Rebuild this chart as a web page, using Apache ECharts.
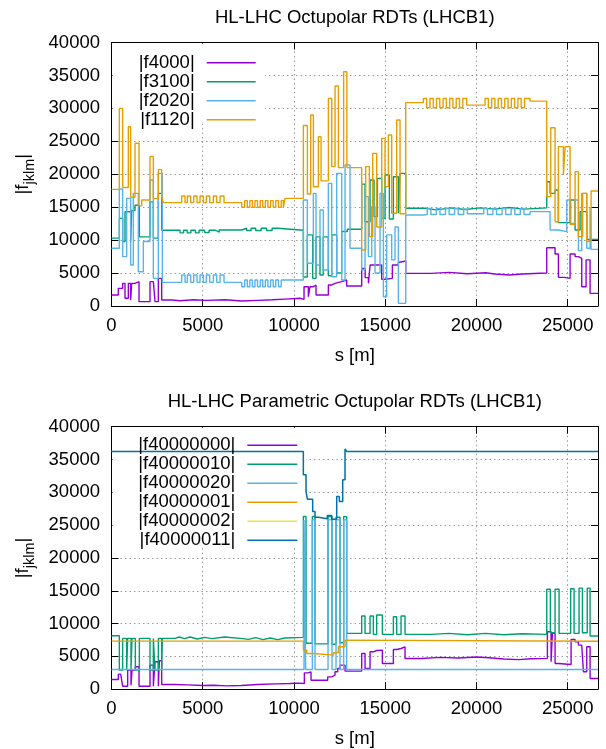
<!DOCTYPE html>
<html><head><meta charset="utf-8">
<script src="https://cdn.jsdelivr.net/npm/echarts@6/dist/echarts.min.js"></script>
<style>html,body{margin:0;padding:0;background:#fff}#c{width:606px;height:749px}</style>
</head><body><div id="c"></div><script>
// ---------- axis ticks ----------
const S_MAX = 26658.88;
const X_TICK_STEP = 5000;
const Y_MAX = 40000;
const Y_TICK_STEP = 5000;

// ---------- titles / names ----------
const titleTop = 'HL-LHC Octupolar RDTs (LHCB1)';
const titleBottom = 'HL-LHC Parametric Octupolar RDTs (LHCB1)';
const xName = 's [m]';
const yName = '|f{sub|jklm}|';

// ---------- top panel: [s (m), |f|] step data ----------
const f4000 = [[0,1670],[375,2680],[612,3440],[740,1170],[923,3440],[1051,920],[1106,3440],[1288,3700],[1508,660],[2110,3700],[2293,3950],[2385,660],[2567,4200],[2750,900],[3300,800],[3755,950],[4500,850],[5200,950],[6221,750],[7135,850],[8000,950],[8800,1050],[9510,1170],[10330,1010],[10550,2930],[10787,1420],[10878,2930],[11061,3190],[11207,1670],[11883,3190],[12066,3440],[12248,3700],[12614,3950],[12888,3030],[13710,5700],[13900,4300],[14080,3440],[14170,6230],[14806,4070],[14989,4200],[15390,6230],[15720,6600],[15811,6830],[16122,4960],[17500,5100],[18500,4900],[19500,5050],[20500,4850],[21000,4700],[21800,4850],[22500,5000],[23850,8850],[24306,7900],[24489,4350],[24800,4200],[25129,7900],[25403,7490],[25586,7240],[25768,2930],[26005,7000],[26225,1920],[26659,1920]];
const f3100 = [[0,10300],[430,13300],[612,9800],[740,14300],[1051,9800],[1106,14500],[1288,15300],[1526,10500],[2110,15800],[2293,10300],[2567,17100],[2750,11500],[3755,11100],[3950,11500],[4150,11100],[4350,11500],[4600,11100],[4800,11500],[5100,11150],[5350,11500],[5700,11200],[5900,11540],[7135,11800],[7400,11450],[7650,11800],[7900,11450],[8200,11800],[8500,11450],[8800,11800],[9100,11500],[10515,4400],[10732,10800],[11024,4200],[11207,10500],[11426,4700],[11600,10500],[11883,4600],[12066,10800],[12340,5000],[12614,11300],[12924,11640],[13710,18500],[13893,12800],[14167,19130],[14386,13560],[14569,19380],[14806,13300],[14989,19880],[15227,13200],[15446,19630],[15720,14070],[15811,20140],[16122,14830],[17200,14600],[17800,14900],[18600,14650],[19400,14900],[20200,14700],[21000,14950],[21800,14700],[22600,14900],[23850,18870],[24033,17100],[24306,17600],[24489,12650],[25129,16090],[25403,11540],[25677,14320],[26042,10120],[26659,10120]];
const f2020 = [[0,8760],[430,17760],[612,7490],[832,16340],[1051,6230],[1197,17100],[1471,5200],[1745,9800],[2110,19130],[2293,4200],[2567,20140],[2786,3590],[3846,4710],[4029,3590],[4157,4710],[4339,3590],[4504,4710],[4687,3590],[4851,4710],[5034,3590],[5198,4710],[5381,3590],[5582,4710],[5765,3590],[5947,4710],[6166,3590],[7135,2930],[7300,3950],[7440,2930],[7580,3950],[7720,2930],[7860,3950],[8000,2930],[8150,3950],[8290,2930],[8430,3950],[8570,2930],[8720,3950],[8860,2930],[9000,3950],[9150,2930],[9300,3950],[9510,3950],[10513,16100],[10732,6480],[11061,17100],[11207,6230],[11426,14570],[11609,5460],[11883,18620],[12066,4450],[12340,20140],[12614,3950],[12797,21400],[13070,8760],[13710,5500],[13893,16600],[14075,7500],[14260,15100],[14440,5000],[14715,17100],[14900,1400],[15080,10800],[15354,7000],[15537,12000],[15720,400],[16122,13820],[17090,13900],[17300,14800],[17500,13900],[17800,14800],[18000,13900],[18300,14800],[18500,13900],[18800,14800],[19000,13900],[19300,14700],[19500,14000],[20400,14800],[20600,13900],[20900,14800],[21100,13900],[21400,14800],[21600,13900],[21900,14800],[22100,13900],[22400,14800],[22600,13900],[22936,14320],[24033,11540],[24489,11290],[24946,16100],[25165,12550],[25403,16100],[25586,8400],[25768,17100],[26042,8760],[26225,15000],[26280,8600],[26659,8600]];
const f1120 = [[0,17700],[430,30000],[612,18000],[923,27200],[1051,16500],[1288,24700],[1508,15200],[1654,16100],[2110,22700],[2293,16300],[2567,20700],[2750,16600],[2841,15700],[3846,16700],[4029,15700],[4157,16700],[4339,15700],[4504,16700],[4687,15700],[4851,16700],[5034,15700],[5198,16700],[5381,15700],[5582,16700],[5765,15700],[5947,16700],[6166,15700],[7135,15000],[7300,16000],[7440,15000],[7580,16000],[7720,15000],[7860,16000],[8000,15000],[8150,16000],[8290,15000],[8430,16000],[8570,15000],[8720,16000],[8860,15000],[9000,16000],[9150,15000],[9300,16000],[9420,15000],[9510,16340],[10515,27400],[10734,17000],[10917,29000],[11063,18100],[11337,25700],[11483,19000],[11885,31500],[12068,21150],[12250,33400],[12433,21000],[12720,35570],[12900,21000],[13710,8500],[13929,21150],[14130,10530],[14313,23170],[14532,12000],[14806,25450],[14989,18120],[15172,25960],[15354,14070],[15628,28240],[15811,14000],[16122,30870],[17090,31500],[17270,30100],[17450,31500],[17630,30100],[17810,31500],[17990,30100],[18170,31500],[18350,30100],[18530,31500],[18710,30100],[18890,31500],[19070,30100],[19250,31500],[19465,30500],[20470,31500],[20650,30100],[20830,31500],[21010,30100],[21190,31500],[21370,30100],[21550,31500],[21730,30100],[21910,31500],[22090,30100],[22270,31500],[22450,30100],[22630,31500],[22936,31100],[23850,16600],[24070,27070],[24306,12800],[24489,24190],[24760,19890],[24860,24190],[25129,12400],[25403,20400],[25586,10530],[25820,17100],[26042,9800],[26280,17450],[26659,17450]];

// ---------- bottom panel ----------
const f40000000 = [[0,1476],[375,2290],[503,2494],[612,458],[886,2900],[1069,610],[1124,2900],[1307,3410],[1508,458],[2110,3665],[2293,458],[2385,4174],[2567,458],[2622,4326],[2750,712],[3500,660],[4200,560],[5000,610],[5600,510],[6300,560],[7100,710],[8000,810],[9000,860],[9800,920],[10200,860],[10568,2494],[10787,2650],[10933,1374],[11846,1880],[12066,2140],[12248,2650],[12394,3155],[12522,3665],[12797,2760],[13710,5446],[13893,3155],[14167,5700],[14350,5900],[14532,5950],[14843,3920],[15446,6057],[15628,6200],[15866,6460],[16085,4683],[17000,4850],[18000,4750],[19000,4900],[20000,4800],[20700,4600],[21500,4500],[22300,4650],[23000,4700],[23886,8750],[24088,4170],[24160,8500],[24307,3920],[24490,3770],[25184,7580],[25403,7230],[25586,6720],[25768,6570],[25860,2650],[26042,6460],[26225,1630],[26659,1630]];
const f40000010 = [[0,8144],[430,2900],[612,7740],[832,2900],[886,7740],[1069,2900],[1124,7740],[1307,2900],[1526,7740],[2110,2900],[2293,7740],[2385,2900],[2567,7740],[2750,2900],[2786,7740],[3500,7950],[3700,7700],[4000,7950],[4300,7650],[4700,7900],[5100,7700],[5500,7950],[6200,7700],[7200,7600],[7500,7850],[7900,7550],[8300,7800],[8700,7550],[9100,7800],[9500,7900],[10515,26320],[10660,7000],[11006,26320],[11152,6900],[11865,26300],[12084,6850],[12303,26200],[12522,7075],[12723,26300],[12888,8500],[13710,11150],[13893,8500],[14167,11150],[14350,8350],[14532,11300],[14843,8350],[15446,11050],[15628,8350],[15866,11150],[16085,8350],[17500,8500],[18500,8300],[19500,8500],[20500,8300],[21500,8450],[22500,8350],[23850,15220],[24050,8600],[24306,15220],[24526,8500],[25160,15300],[25348,8500],[25620,15400],[25805,8600],[26070,15400],[26225,8100],[26659,8100]];
const f40000020 = [[0,3000],[10550,25800],[10640,3000],[11006,25800],[11152,3000],[11865,25800],[12084,3000],[12303,25800],[12522,3000],[12723,25800],[12888,3000],[26659,3000]];
const f40000001 = [[0,7330],[10515,5955],[10700,5446],[11063,5190],[12159,5550],[12433,6463],[12798,7480],[12890,7300],[26659,7300]];
const f40000002 = [[0,36240],[10513,32680],[10659,30130],[10732,28960],[11024,27080],[11152,26210],[11335,25960],[11828,26470],[12066,25900],[12340,29370],[12486,28600],[12669,31910],[12797,36600],[12888,36240],[26659,36240]];
const f40000011 = [[0,36240],[10513,32680],[10659,30130],[10732,28960],[11024,27080],[11152,26210],[11335,25960],[11828,26470],[12066,25900],[12340,29370],[12486,28600],[12669,31910],[12797,36600],[12888,36240],[26659,36240]];

const topSeries = [
  {name:'|f4000|', data:f4000, color:'#9400d3', w:1.4},
  {name:'|f3100|', data:f3100, color:'#009e73', w:1.4},
  {name:'|f2020|', data:f2020, color:'#56b4e9', w:1.4},
  {name:'|f1120|', data:f1120, color:'#e69f00', w:1.4}
];
const bottomSeries = [
  {name:'|f40000000|', data:f40000000, color:'#9400d3', w:1.4},
  {name:'|f40000010|', data:f40000010, color:'#009e73', w:1.4},
  {name:'|f40000020|', data:f40000020, color:'#56b4e9', w:1.4},
  {name:'|f40000001|', data:f40000001, color:'#e69f00', w:1.4},
  {name:'|f40000002|', data:f40000002, color:'#f0e442', w:0.6},
  {name:'|f40000011|', data:f40000011, color:'#0072b2', w:1.5}
];

const FONT = '"Liberation Sans", Arial, Helvetica, sans-serif';
const FS = 18.5;
const GRIDS = [
  {left:111.5, top:42.5, width:486.5, height:263.5},
  {left:111.5, top:426.7, width:486.5, height:262.5}
];
const split = {show:true, showMinLine:false, showMaxLine:false, lineStyle:{color:'#9a9a9a', width:1, type:[1.5,3]}};
const tick = {show:true, inside:true, length:7, lineStyle:{color:'#000', width:1}};
const line = {show:true, onZero:false, lineStyle:{color:'#000', width:1}};
const lab = {fontSize:FS, color:'#000', fontFamily:FONT};
const plain = v => String(Math.round(v));

const xAxis = [], yAxis = [];
GRIDS.forEach((g, i) => {
  xAxis.push({gridIndex:i, type:'value', position:'bottom', min:0, max:S_MAX, interval:X_TICK_STEP,
    name:xName, nameLocation:'middle', nameGap:40, nameTextStyle:lab,
    axisLine:line, axisTick:tick, splitLine:split,
    axisLabel:Object.assign({margin:10, showMaxLabel:false, formatter:plain}, lab)});
  xAxis.push({gridIndex:i, type:'value', position:'top', min:0, max:S_MAX, interval:X_TICK_STEP,
    axisLine:line, axisTick:tick, splitLine:{show:false}, axisLabel:{show:false}});
  yAxis.push({gridIndex:i, type:'value', position:'left', min:0, max:Y_MAX, interval:Y_TICK_STEP,
    name:yName, nameLocation:'middle', nameRotate:90, nameGap:74.5,
    nameTextStyle:Object.assign({lineHeight:28, rich:{sub:{fontSize:14.5, fontFamily:FONT, color:'#000', verticalAlign:'bottom'}}}, lab),
    axisLine:line, axisTick:tick, splitLine:split,
    axisLabel:Object.assign({margin:11.5, formatter:plain}, lab)});
  yAxis.push({gridIndex:i, type:'value', position:'right', min:0, max:Y_MAX, interval:Y_TICK_STEP,
    axisLine:line, axisTick:tick, splitLine:{show:false}, axisLabel:{show:false}});
});

function mk(list, gi) {
  return list.map(s => ({
    name:s.name, type:'line', step:'end', data:s.data, xAxisIndex:gi*2, yAxisIndex:gi*2,
    symbol:'none', showSymbol:false, silent:true, animation:false, z:2,
    color:s.color, lineStyle:{color:s.color, width:s.w}, emphasis:{disabled:true}
  }));
}

const legendCommon = {orient:'vertical', align:'right', itemGap:0, icon:'rect', padding:0,
  itemHeight:1.5, selectedMode:false};

const option = {
  animation:false,
  backgroundColor:'#fff',
  title:[
    {text:titleTop, left:354.75, top:8, textAlign:'center', padding:0,
     textStyle:{fontSize:FS, fontWeight:'normal', color:'#000', fontFamily:FONT}},
    {text:titleBottom, left:354.75, top:392, textAlign:'center', padding:0,
     textStyle:{fontSize:FS, fontWeight:'normal', color:'#000', fontFamily:FONT}}
  ],
  grid: GRIDS.map(g => Object.assign({containLabel:false, outerBoundsMode:'none'}, g)),
  xAxis, yAxis,
  legend:[
    Object.assign({}, legendCommon, {data:topSeries.map(s=>s.name), right:350.3, top:53.3, itemWidth:49,
      textStyle:{fontSize:FS, color:'#000', fontFamily:FONT, lineHeight:16.7, padding:[0,7,0,0]}}),
    Object.assign({}, legendCommon, {data:bottomSeries.map(s=>s.name), right:308.7, top:435.7, itemWidth:50,
      textStyle:{fontSize:FS, color:'#000', fontFamily:FONT, lineHeight:18.66, padding:[0,7,0,0]}})
  ],
  graphic:[
    {type:'rect', z:1, silent:true, shape:{x:112.5, y:43.5, width:152.5, height:80}, style:{fill:'#fff'}},
    {type:'rect', z:1, silent:true, shape:{x:112.5, y:427.7, width:193.5, height:120}, style:{fill:'#fff'}}
  ],
  series: mk(topSeries, 0).concat(mk(bottomSeries, 1))
};
const chart = echarts.init(document.getElementById('c'), null, {renderer:'canvas'});
chart.setOption(option);
</script></body></html>
